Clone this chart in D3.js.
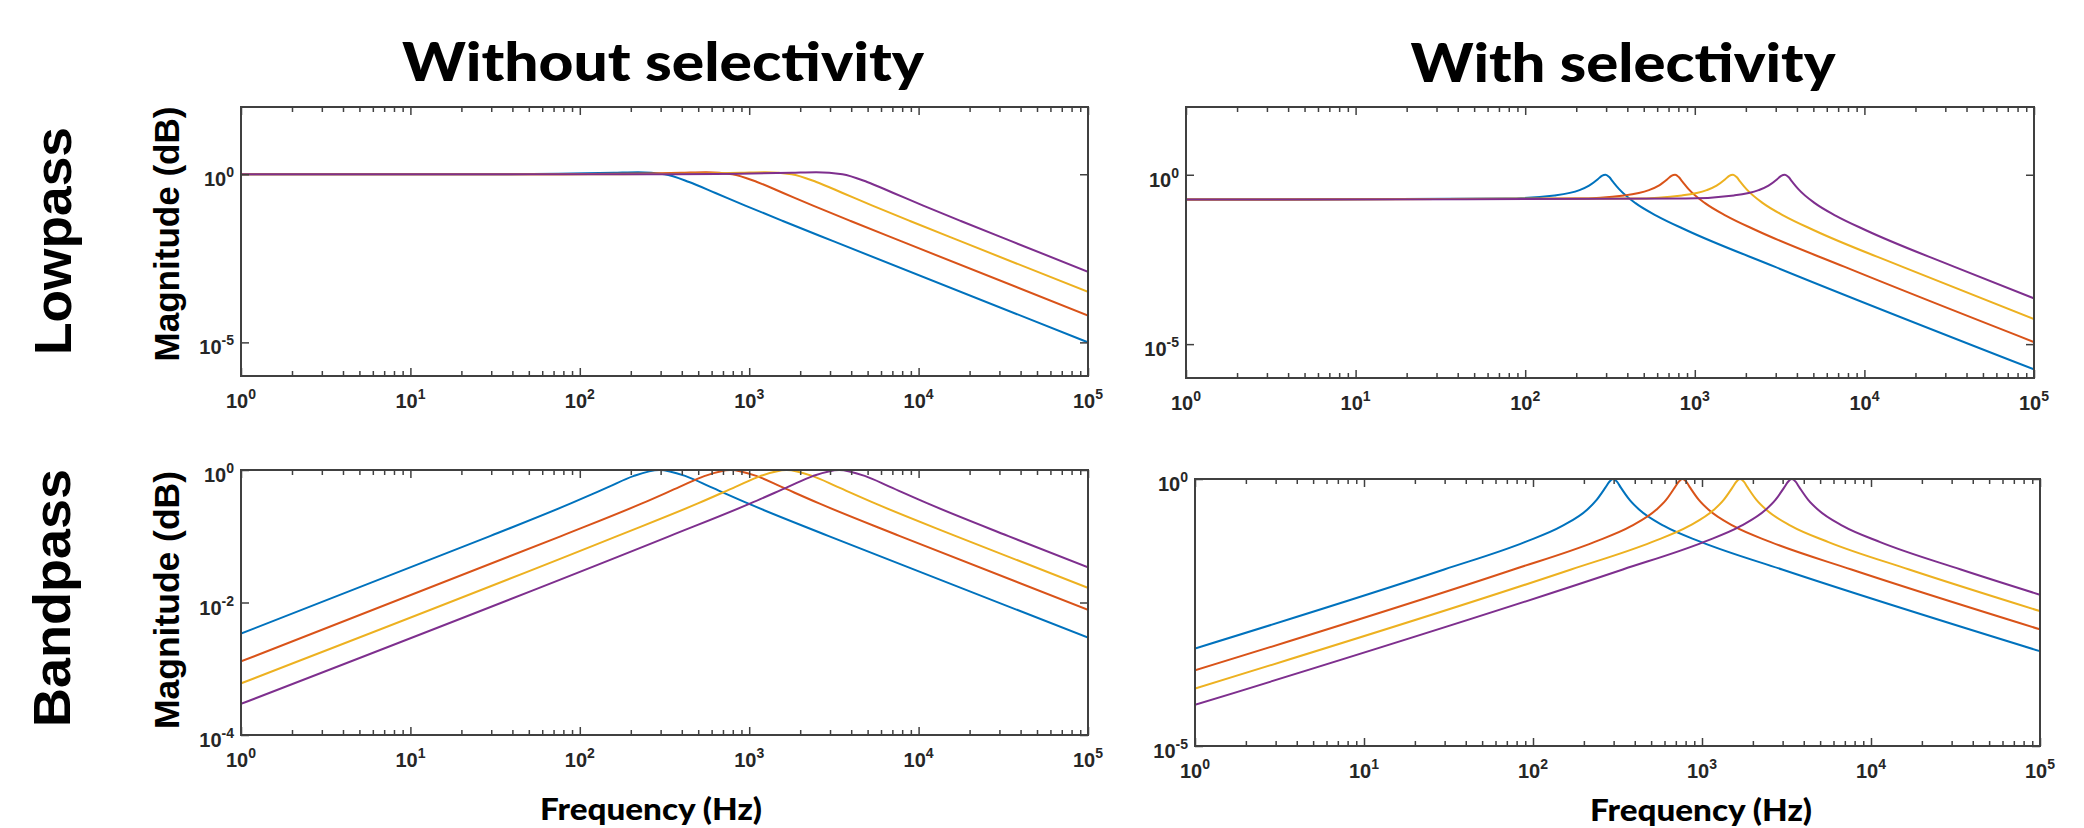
<!DOCTYPE html>
<html>
<head>
<meta charset="utf-8">
<title>Filter responses</title>
<script src="https://d3js.org/d3.v7.min.js"></script>
<style>
  body { margin: 0; background: #fff; }
  svg text { font-family: "Liberation Sans", Arial, sans-serif; }
</style>
</head>
<body>
<div id="chart"></div>
<script>
// ---- data ----
var decadeTicks = [1e0, 1e1, 1e2, 1e3, 1e4, 1e5];
var seriesColors = ["#0072BD", "#D95319", "#EDB120", "#7E2F8E"];
var colTitles = ["Without selectivity", "With selectivity"];
var rowTitles = ["Lowpass", "Bandpass"];
var yTitle = "Magnitude (dB)";
var xTitle = "Frequency (Hz)";

var lpPlainTicks = [1e-5, 1e0];
var lpSelTicks = [1e-5, 1e0];
var bpPlainTicks = [1e-4, 1e-2, 1e0];
var bpSelTicks = [1e-5, 1e0];

// lowpass, without selectivity  [frequency Hz, magnitude]
var lpPlainBlue = [[1,1],[31.6,1.005],[158,1.11],[221,1.155],[316,1],[442,0.589],[632,0.277],[948,0.117],[1580,0.0408],[3160,0.01005],[100000,0.00001]];
var lpPlainOrange = [[1,1],[79.4,1.005],[397,1.11],[556,1.155],[794,1],[1112,0.589],[1588,0.277],[2382,0.117],[3970,0.0408],[7940,0.01005],[100000,0.000063]];
var lpPlainYellow = [[1,1],[178,1.005],[890,1.11],[1246,1.155],[1780,1],[2492,0.589],[3560,0.277],[5340,0.117],[8900,0.0408],[17800,0.01005],[100000,0.000317]];
var lpPlainPurple = [[1,1],[355,1.005],[1775,1.11],[2485,1.155],[3550,1],[4970,0.589],[7100,0.277],[10650,0.117],[17750,0.0408],[35500,0.01005],[100000,0.00126]];

// lowpass, with selectivity
var lpSelBlue = [[1,0.185],[77,0.198],[149,0.245],[209,0.351],[238,0.477],[268,0.738],[283,0.933],[298,1],[313,0.854],[328,0.637],[358,0.377],[447,0.145],[596,0.0613],[894,0.023],[2980,0.0019],[100000,0.0000018]];
var lpSelOrange = [[1,0.185],[199,0.198],[383,0.245],[536,0.351],[613,0.477],[689,0.738],[728,0.933],[766,1],[804,0.854],[843,0.637],[919,0.377],[1149,0.145],[1532,0.0613],[2298,0.023],[7660,0.0019],[100000,0.0000115]];
var lpSelYellow = [[1,0.185],[437,0.198],[840,0.245],[1176,0.351],[1344,0.477],[1512,0.738],[1596,0.933],[1680,1],[1764,0.854],[1848,0.637],[2016,0.377],[2520,0.145],[3360,0.0613],[5040,0.023],[16800,0.0019],[100000,0.000055]];
var lpSelPurple = [[1,0.185],[884,0.198],[1700,0.245],[2380,0.351],[2720,0.477],[3060,0.738],[3230,0.933],[3400,1],[3570,0.854],[3740,0.637],[4080,0.377],[5100,0.145],[6800,0.0613],[10200,0.023],[34000,0.0019],[100000,0.000225]];

// bandpass, without selectivity
var bpPlainBlue = [[1,0.00339],[29.5,0.1005],[88.5,0.313],[148,0.555],[207,0.808],[295,1],[422,0.808],[590,0.555],[983,0.313],[2950,0.1005],[100000,0.00295]];
var bpPlainOrange = [[1,0.00129],[77.6,0.1005],[233,0.313],[388,0.555],[543,0.808],[776,1],[1110,0.808],[1552,0.555],[2587,0.313],[7760,0.1005],[100000,0.00776]];
var bpPlainYellow = [[1,0.000602],[166,0.1005],[498,0.313],[830,0.555],[1162,0.808],[1660,1],[2374,0.808],[3320,0.555],[5533,0.313],[16600,0.1005],[100000,0.0166]];
var bpPlainPurple = [[1,0.000295],[339,0.1005],[1017,0.313],[1695,0.555],[2373,0.808],[3390,1],[4848,0.808],[6780,0.555],[11300,0.313],[33900,0.1005],[100000,0.0339]];

// bandpass, with selectivity
var bpSelBlue = [[1,0.000671],[29.8,0.0202],[89.4,0.0658],[149,0.132],[209,0.265],[238,0.406],[268,0.688],[283,0.89],[298,1],[314,0.89],[331,0.688],[373,0.406],[426,0.265],[596,0.132],[993,0.0658],[2980,0.0202],[100000,0.000596]];
var bpSelOrange = [[1,0.000261],[76.6,0.0202],[230,0.0658],[383,0.132],[536,0.265],[613,0.406],[689,0.688],[728,0.89],[766,1],[807,0.89],[851,0.688],[958,0.406],[1095,0.265],[1532,0.132],[2553,0.0658],[7660,0.0202],[100000,0.00153]];
var bpSelYellow = [[1,0.000119],[168,0.0202],[504,0.0658],[840,0.132],[1176,0.265],[1344,0.406],[1512,0.688],[1596,0.89],[1680,1],[1769,0.89],[1866,0.688],[2100,0.406],[2402,0.265],[3360,0.132],[5600,0.0658],[16800,0.0202],[100000,0.00336]];
var bpSelPurple = [[1,0.0000588],[340,0.0202],[1020,0.0658],[1700,0.132],[2380,0.265],[2720,0.406],[3060,0.688],[3230,0.89],[3400,1],[3580,0.89],[3777,0.688],[4250,0.406],[4862,0.265],[6800,0.132],[11333,0.0658],[34000,0.0202],[100000,0.0068]];

// ---- layout ----
var W = 2084, H = 828;
var boxColor = "#404040";

var panels = [
  {x0: 241, x1: 1088, y0: 107, y1: 376, ydom: [1e-6, 1e2], yticks: lpPlainTicks,
   series: [lpPlainBlue, lpPlainOrange, lpPlainYellow, lpPlainPurple]},
  {x0: 1186, x1: 2034, y0: 107, y1: 378, ydom: [1e-6, 1e2], yticks: lpSelTicks,
   series: [lpSelBlue, lpSelOrange, lpSelYellow, lpSelPurple]},
  {x0: 241, x1: 1088, y0: 470, y1: 735, ydom: [1e-4, 1e0], yticks: bpPlainTicks,
   series: [bpPlainBlue, bpPlainOrange, bpPlainYellow, bpPlainPurple]},
  {x0: 1195, x1: 2040, y0: 479, y1: 746, ydom: [1e-5, 1e0], yticks: bpSelTicks,
   series: [bpSelBlue, bpSelOrange, bpSelYellow, bpSelPurple]}
];

var svg = d3.select("#chart")
  .append("svg")
  .attr("width", W)
  .attr("height", H);

var minorTicks = [];
for (var dec = 0; dec < 5; dec++) {
  for (var k = 2; k < 10; k++) minorTicks.push(k * Math.pow(10, dec));
}

function exponent(d) { return Math.round(Math.log10(d)); }

panels.forEach(function(p, i) {
  var x = d3.scaleLog().domain([1, 1e5]).range([p.x0, p.x1]);
  var y = d3.scaleLog().domain(p.ydom).range([p.y1, p.y0]);
  var g = svg.append("g");

  svg.append("clipPath").attr("id", "clip" + i)
    .append("rect")
    .attr("x", p.x0).attr("y", p.y0 - 1)
    .attr("width", p.x1 - p.x0).attr("height", p.y1 - p.y0 + 1);

  var line = d3.line()
    .x(function(d) { return x(d[0]); })
    .y(function(d) { return y(d[1]); })
    .curve(d3.curveMonotoneX);

  g.append("g").attr("clip-path", "url(#clip" + i + ")")
    .selectAll("path")
    .data(p.series)
    .join("path")
    .attr("d", line)
    .attr("fill", "none")
    .attr("stroke", function(d, j) { return seriesColors[j]; })
    .attr("stroke-width", 2);

  // ticks, pointing inward on all four sides
  function styleAxis(sel) {
    sel.select(".domain").remove();
    sel.selectAll("line").attr("stroke", boxColor).attr("stroke-width", 1.5);
  }
  [[d3.axisBottom, p.y1], [d3.axisTop, p.y0]].forEach(function(a) {
    g.append("g").attr("transform", "translate(0," + a[1] + ")")
      .call(a[0](x).tickValues(decadeTicks).tickSize(-8).tickFormat(""))
      .call(styleAxis);
    g.append("g").attr("transform", "translate(0," + a[1] + ")")
      .call(a[0](x).tickValues(minorTicks).tickSize(-5).tickFormat(""))
      .call(styleAxis);
  });
  [[d3.axisLeft, p.x0], [d3.axisRight, p.x1]].forEach(function(a) {
    g.append("g").attr("transform", "translate(" + a[1] + ",0)")
      .call(a[0](y).tickValues(p.yticks).tickSize(-8).tickFormat(""))
      .call(styleAxis);
  });

  g.append("rect")
    .attr("x", p.x0).attr("y", p.y0)
    .attr("width", p.x1 - p.x0).attr("height", p.y1 - p.y0)
    .attr("fill", "none")
    .attr("stroke", boxColor)
    .attr("stroke-width", 2);

  // x tick labels
  g.selectAll(".xlab")
    .data(decadeTicks)
    .join("text")
    .attr("class", "xlab")
    .attr("x", function(d) { return x(d); })
    .attr("y", p.y1 + 32)
    .attr("text-anchor", "middle")
    .attr("font-weight", "bold")
    .attr("font-size", 20)
    .attr("fill", "#262626")
    .each(function(d) {
      var t = d3.select(this);
      t.append("tspan").text("10");
      t.append("tspan").attr("dy", -9).attr("font-size", 14).text(exponent(d));
    });

  // y tick labels
  g.selectAll(".ylab")
    .data(p.yticks)
    .join("text")
    .attr("class", "ylab")
    .attr("x", p.x0 - 7)
    .attr("y", function(d) { return y(d) + 12; })
    .attr("text-anchor", "end")
    .attr("font-weight", "bold")
    .attr("font-size", 20)
    .attr("fill", "#262626")
    .each(function(d) {
      var t = d3.select(this);
      t.append("tspan").text("10");
      t.append("tspan").attr("dy", -9).attr("font-size", 14).text(exponent(d));
    });
});

// column titles
var titleFont = "Lato, 'Open Sans', sans-serif";
[[663, 81, 522], [1623, 82, 425]].forEach(function(c, i) {
  svg.append("text")
    .attr("x", c[0]).attr("y", c[1])
    .attr("text-anchor", "middle")
    .style("font-family", titleFont)
    .attr("font-weight", 900)
    .attr("font-size", 54)
    .attr("textLength", c[2])
    .attr("lengthAdjust", "spacingAndGlyphs")
    .text(colTitles[i]);
});

// x axis titles (bottom row only)
[[651, 820], [1701, 821]].forEach(function(c) {
  svg.append("text")
    .attr("x", c[0]).attr("y", c[1])
    .attr("text-anchor", "middle")
    .style("font-family", titleFont)
    .attr("font-weight", 900)
    .attr("font-size", 31)
    .attr("textLength", 222)
    .attr("lengthAdjust", "spacingAndGlyphs")
    .text(xTitle);
});

// row titles
[[71, 241, 228], [70, 598, 258]].forEach(function(c, i) {
  svg.append("text")
    .attr("transform", "translate(" + c[0] + "," + c[1] + ") rotate(-90)")
    .attr("text-anchor", "middle")
    .attr("font-weight", "bold")
    .attr("font-size", 52)
    .attr("textLength", c[2])
    .attr("lengthAdjust", "spacingAndGlyphs")
    .text(rowTitles[i]);
});

// y axis titles (left column only)
[[179, 234, 255], [179, 600, 258]].forEach(function(c) {
  svg.append("text")
    .attr("transform", "translate(" + c[0] + "," + c[1] + ") rotate(-90)")
    .attr("text-anchor", "middle")
    .attr("font-weight", "bold")
    .attr("font-size", 35)
    .attr("textLength", c[2])
    .attr("lengthAdjust", "spacingAndGlyphs")
    .text(yTitle);
});
</script>
</body>
</html>
